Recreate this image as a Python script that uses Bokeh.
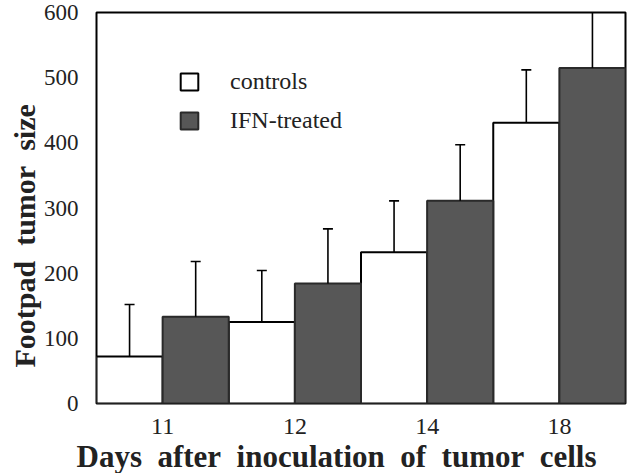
from bokeh.plotting import figure
from bokeh.models import (FactorRange, Range1d, FixedTicker, Legend, LegendItem,
                          ColumnDataSource, Title)
from bokeh.transform import dodge
from bokeh.embed import file_html
from bokeh.resources import INLINE

days = ["11", "12", "14", "18"]
controls = [72, 125, 232, 431]
controls_err = [80, 79, 79, 81]
ifn = [133, 184, 311, 515]
ifn_err = [85, 84, 86, 100]
y_ticks = [0, 100, 200, 300, 400, 500, 600]

src = ColumnDataSource(dict(
    day=days,
    controls=controls,
    ifn=ifn,
    controls_up=[v + e for v, e in zip(controls, controls_err)],
    ifn_up=[v + e for v, e in zip(ifn, ifn_err)],
))

SERIF = "Liberation Serif"
NB = "\u00a0"
INK = "#222222"

p = figure(width=628, height=473,
           x_range=FactorRange(factors=days, range_padding=0),
           y_range=Range1d(0, 600),
           output_backend="svg", toolbar_location=None,
           min_border_left=96, min_border_right=3,
           min_border_top=12, min_border_bottom=70)

xc = dodge("day", -0.25, range=p.x_range)
xi = dodge("day", 0.25, range=p.x_range)

r1 = p.vbar(x=xc, top="controls", bottom=0, width=0.5, source=src,
            fill_color="white", line_color="black", line_width=2)
r2 = p.vbar(x=xi, top="ifn", bottom=0, width=0.5, source=src,
            fill_color="#575757", line_color="#2a2a2a", line_width=2)

for top, up, xx in (("controls", "controls_up", xc), ("ifn", "ifn_up", xi)):
    p.segment(x0=xx, y0=top, x1=xx, y1=up, source=src,
              line_color="black", line_width=1.6)
    p.scatter(x=xx, y=up, source=src, marker="dash", size=10,
              line_color="black", line_width=1.6)

legend = Legend(items=[LegendItem(label="controls", renderers=[r1]),
                       LegendItem(label="IFN-treated", renderers=[r2])],
                location=(82, 269), glyph_width=22, glyph_height=21,
                label_standoff=30, spacing=12, padding=0, margin=0,
                border_line_color=None, background_fill_alpha=0,
                label_text_font=SERIF, label_text_font_size="24px",
                label_text_color=INK)
p.add_layout(legend)

p.outline_line_color = "black"
p.outline_line_width = 2
p.xgrid.grid_line_color = None
p.ygrid.grid_line_color = None

p.yaxis.ticker = FixedTicker(ticks=y_ticks)
for ax in (p.xaxis, p.yaxis):
    ax.axis_line_color = None
    ax.major_tick_line_color = None
    ax.minor_tick_line_color = None
    ax.major_label_text_font = SERIF
    ax.major_label_text_color = INK

p.yaxis.major_label_text_font_size = "23px"
p.yaxis.major_label_standoff = 12

p.xaxis.major_label_text_font_size = "24px"
p.xaxis.major_label_standoff = 9

ylab = Title(text=(NB * 2).join(["Footpad", "tumor", "size"]),
             align="left", offset=36, standoff=0,
             text_font=SERIF, text_font_style="bold", text_font_size="30px",
             text_color=INK)
p.add_layout(ylab, "left")

xlab = Title(text=(NB * 2).join(["Days", "after", "inoculation", "of", "tumor", "cells"]),
             align="left", offset=-20, standoff=0,
             text_font=SERIF, text_font_style="bold", text_font_size="31px",
             text_color=INK)
p.add_layout(xlab, "below")

open("out.html", "w").write(file_html(p, INLINE))
